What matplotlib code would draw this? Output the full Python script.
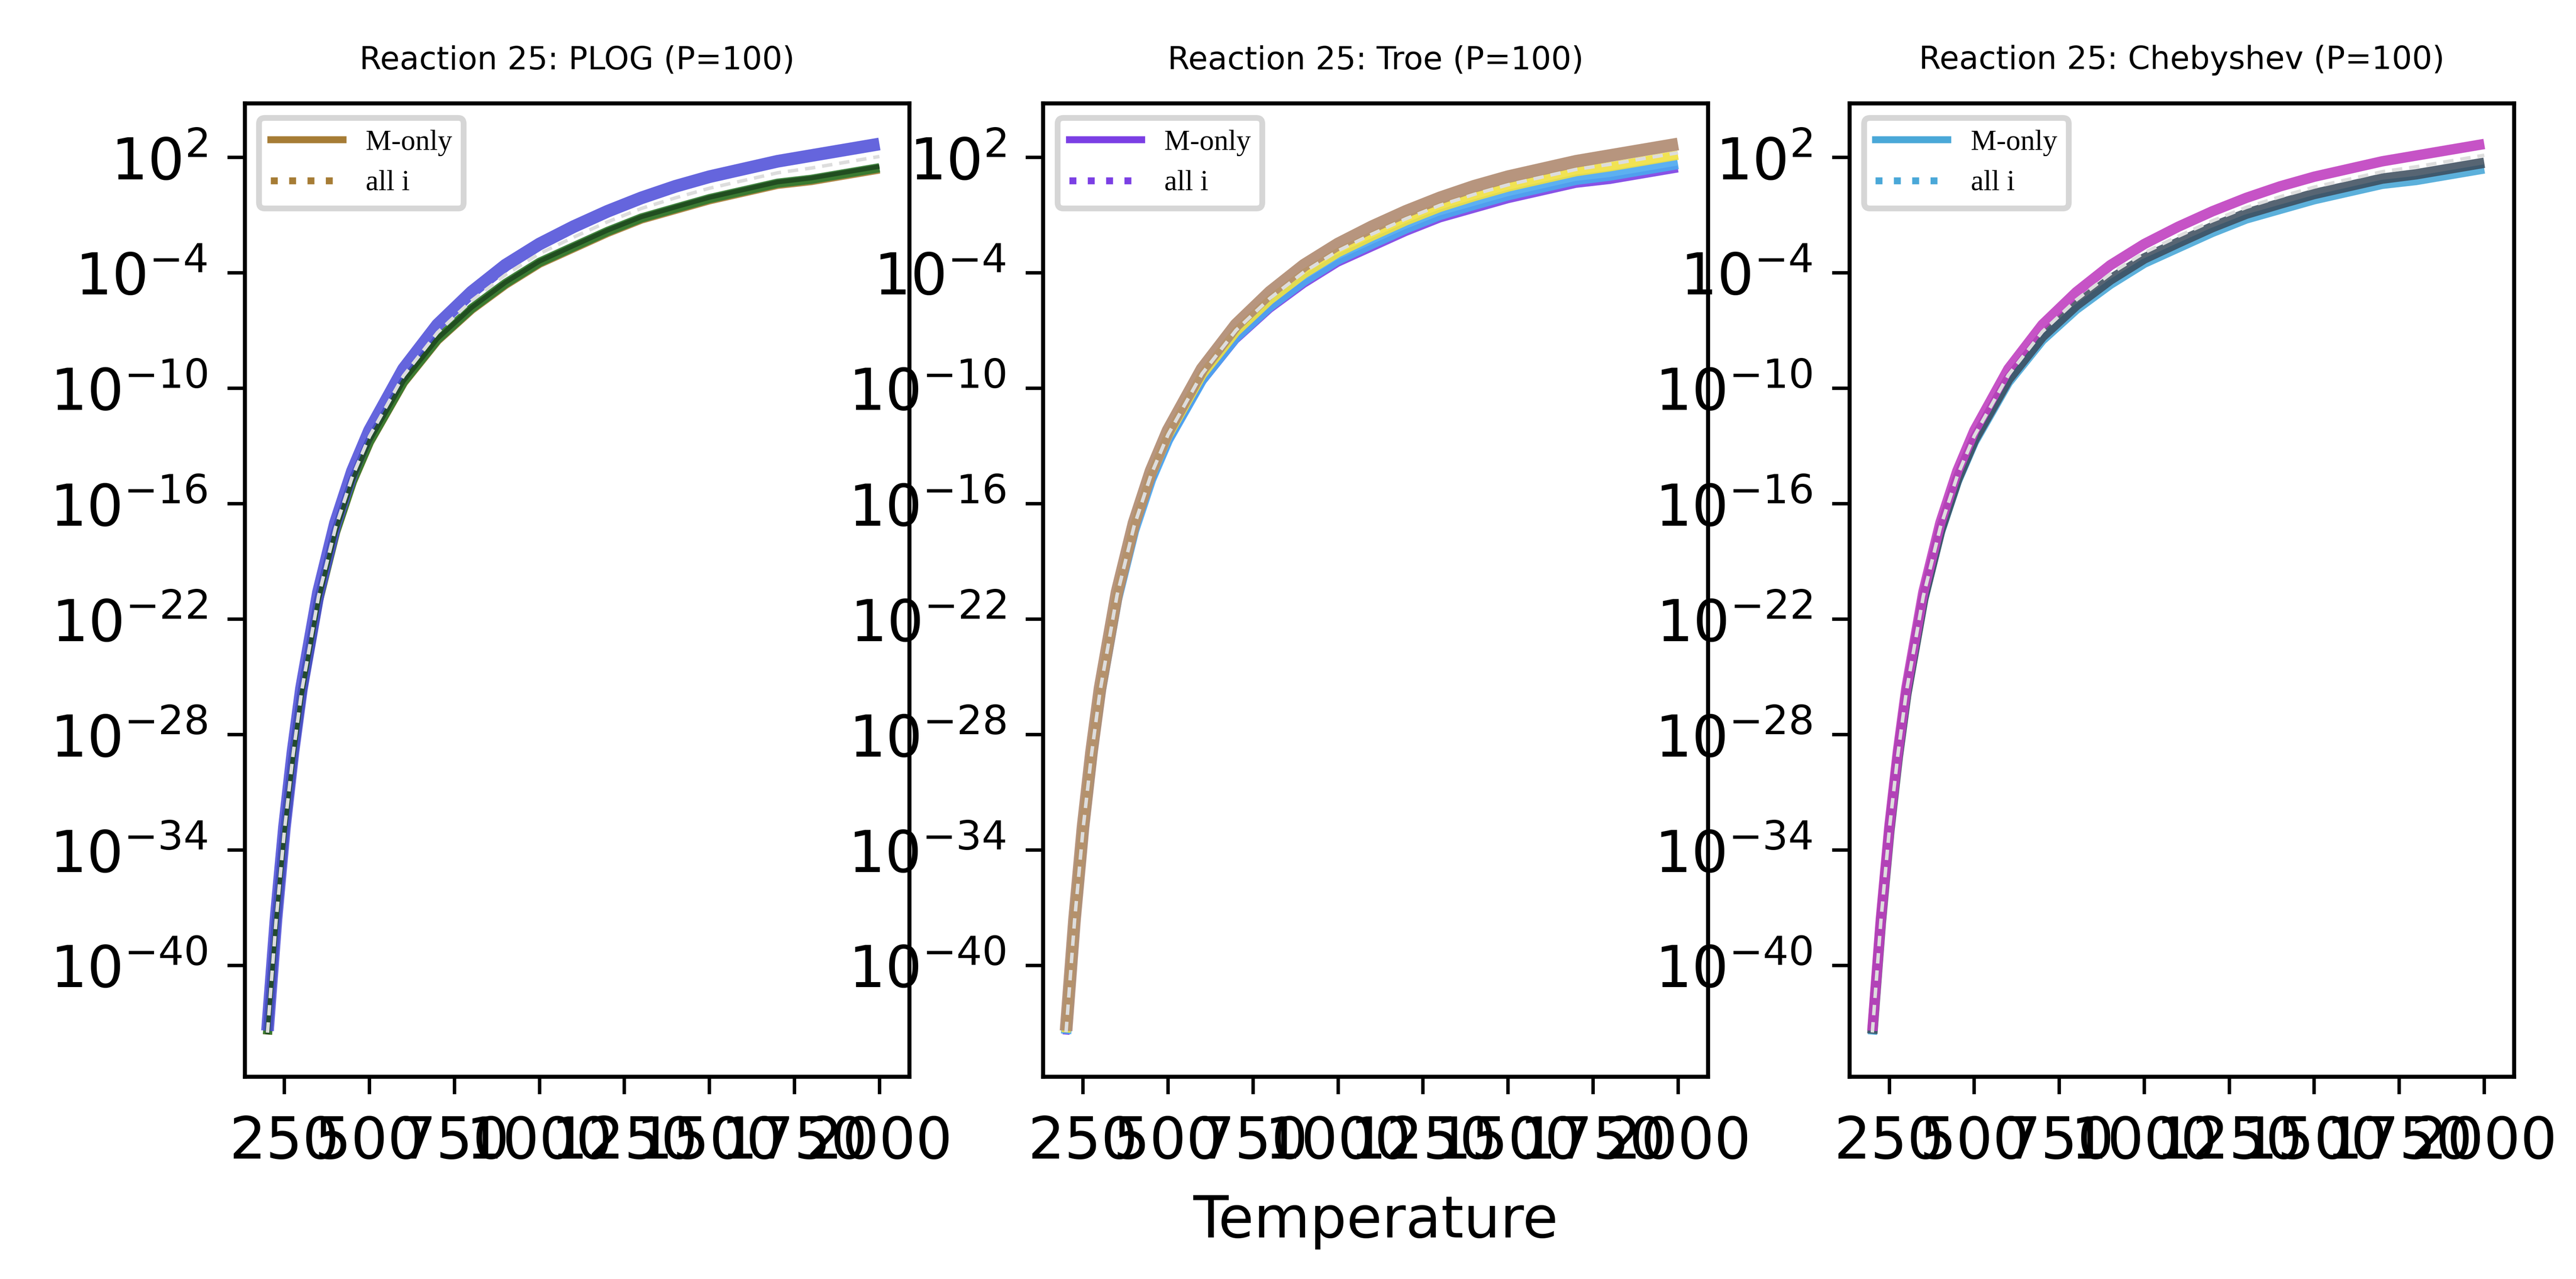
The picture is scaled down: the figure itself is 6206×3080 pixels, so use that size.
import numpy as np
import matplotlib
matplotlib.use("Agg")
import matplotlib.pyplot as plt

T = [200, 225, 250, 275, 300, 350, 400, 450, 500, 600, 700, 800, 900, 1000,
     1100, 1200, 1300, 1400, 1500, 1600, 1700, 1800, 1900, 2000]
log_upper = [-43.4, -37.6, -32.8, -28.9, -25.6, -20.6, -17.0, -14.3, -12.2, -9.0, -6.7, -5.0, -3.6, -2.5,
             -1.6, -0.8, -0.1, 0.5, 1.0, 1.4, 1.8, 2.1, 2.4, 2.7]
spread = [0.2, 0.25, 0.3, 0.35, 0.4, 0.45, 0.5, 0.55, 0.6, 0.7, 0.8, 0.9, 1.0, 1.0,
          1.1, 1.1, 1.1, 1.2, 1.2, 1.2, 1.2, 1.3, 1.3, 1.3]

titles = ["Reaction 25: PLOG (P=100)", "Reaction 25: Troe (P=100)", "Reaction 25: Chebyshev (P=100)"]
legend_colors = ["#a67c35", "#7b3fe4", "#4aa8d8"]
# per panel: (color, fraction of spread below upper, linewidth, alpha)
panel_series = [
    [("#a67c35", 1.0, 1.6, 0.9), ("#2f7a2f", 0.95, 1.6, 0.9), ("#4a4ad8", 0.0, 2.2, 0.85), ("#1f4a1f", 0.9, 0.8, 0.9)],
    [("#7b3fe4", 1.0, 1.2, 0.9), ("#4aa8f0", 0.8, 1.8, 0.9), ("#f0e040", 0.45, 1.6, 0.9), ("#b08a70", 0.0, 2.2, 0.9)],
    [("#4aa8d8", 1.0, 1.6, 0.9), ("#3a4a5a", 0.75, 1.8, 0.85), ("#c040c0", 0.0, 1.8, 0.9)],
]
dashed_frac = [0.5, 0.35, 0.45]

fig = plt.figure(figsize=(6.206, 3.08), dpi=1000)
lefts = [0.095, 0.405, 0.718]
yt = [1e2, 1e-4, 1e-10, 1e-16, 1e-22, 1e-28, 1e-34, 1e-40]
Ta = np.array(T, float)
up = np.array(log_upper)
sp = np.array(spread)
for i in range(3):
    ax = fig.add_axes([lefts[i], 0.158, 0.258, 0.761])
    for c, f, lw, a in panel_series[i]:
        ax.plot(Ta, 10 ** (up - f * sp), color=c, lw=lw, alpha=a, solid_capstyle="butt",
                solid_joinstyle="round")
    ax.plot(Ta, 10 ** (up - dashed_frac[i] * sp), color="#dddddd", lw=0.6, ls=(0, (3, 2)))
    ax.set_yscale("log")
    ax.set_ylim(10 ** -45.8, 10 ** 4.8)
    ax.set_xlim(133, 2088)
    ax.set_yticks(yt)
    ax.minorticks_off()
    ax.set_xticks([250, 500, 750, 1000, 1250, 1500, 1750, 2000])
    ax.tick_params(labelsize=10, width=0.6, length=3)
    for s in ax.spines.values():
        s.set_linewidth(0.7)
    ax.set_title(titles[i], fontsize=5.5)
    h1, = ax.plot([], [], color=legend_colors[i], lw=1.2)
    h2, = ax.plot([], [], color=legend_colors[i], lw=1.2, ls=":")
    ax.legend([h1, h2], ["M-only", "all i"], loc="upper left",
              prop={"family": "Liberation Serif", "size": 5}, handlelength=2.5)
    if i == 1:
        ax.set_xlabel("Temperature", fontsize=10)
fig.savefig("out.png", dpi=1000)
